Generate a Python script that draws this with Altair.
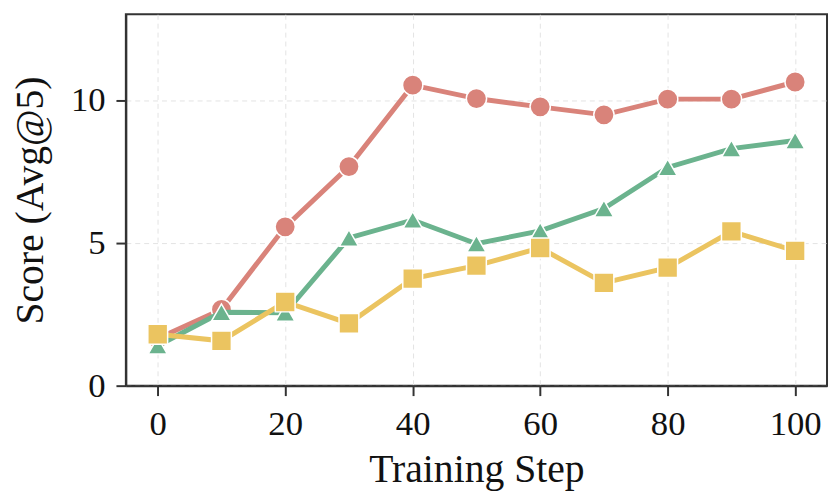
import altair as alt
import pandas as pd

steps = [0, 10, 20, 30, 40, 50, 60, 70, 80, 90, 100]
red_vals = [1.65, 2.67, 5.56, 7.67, 10.52, 10.05, 9.76, 9.48, 10.03, 10.03, 10.63]
green_vals = [1.4, 2.57, 2.55, 5.17, 5.8, 4.97, 5.42, 6.2, 7.64, 8.3, 8.58]
yellow_vals = [1.8, 1.57, 2.93, 2.18, 3.75, 4.2, 4.82, 3.6, 4.13, 5.4, 4.72]

series = [
    ("A", red_vals, "#D9837A", "circle", 420),
    ("B", green_vals, "#6BB38E", "triangle-up", 380),
    ("C", yellow_vals, "#EBC460", "square", 400),
]

FONT = "Liberation Serif"

xscale = alt.Scale(domain=[-5, 105], nice=False, zero=False)
yscale = alt.Scale(domain=[0, 13], nice=False)

xaxis = alt.Axis(
    title="Training Step", values=[0, 20, 40, 60, 80, 100], format="d",
    grid=True, gridDash=[5, 4], gridColor="#e3e3e3", gridWidth=1,
    domainColor="#333333", domainWidth=2, tickColor="#333333", tickWidth=2,
    tickSize=10, labelFontSize=35, labelFont=FONT, labelColor="#111111",
    labelPadding=11, titleFont=FONT, titleFontSize=40, titleFontWeight="normal",
    titleColor="#111111", titlePadding=9,
)
yaxis = alt.Axis(
    title="Score (Avg@5)", values=[0, 5, 10], format="d",
    grid=True, gridDash=[5, 4], gridColor="#e3e3e3", gridWidth=1,
    domainColor="#333333", domainWidth=2, tickColor="#333333", tickWidth=2,
    tickSize=10, labelFontSize=35, labelFont=FONT, labelColor="#111111",
    labelPadding=11, titleFont=FONT, titleFontSize=40, titleFontWeight="normal",
    titleColor="#111111", titlePadding=20,
)

layers = []
for i, (name, vals, color, shape, size) in enumerate(series):
    df = pd.DataFrame({"step": steps, "score": vals})
    base = alt.Chart(df)
    x = alt.X("step:Q", scale=xscale, axis=xaxis)
    y = alt.Y("score:Q", scale=yscale, axis=yaxis)
    line = base.mark_line(color=color, strokeWidth=5).encode(x=x, y=y)
    pts = base.mark_point(
        shape=shape, filled=True, color=color, size=size, opacity=1,
        stroke="white", strokeWidth=1.5,
    ).encode(x=x, y=y)
    layers += [line, pts]

chart = alt.layer(*layers).properties(
    width=708, height=375,
    autosize=alt.AutoSizeParams(type="none"),
    padding={"left": 119, "top": 4, "right": 2, "bottom": 105},
).configure(
    background="white",
    view=alt.ViewConfig(stroke="#333333", strokeWidth=2),
)

chart.save("out.html", embed_options={"renderer": "svg", "actions": False})
